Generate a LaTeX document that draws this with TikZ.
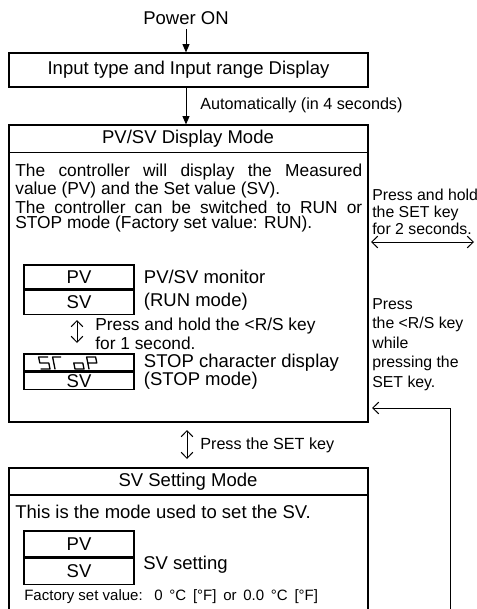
\documentclass[tikz,border=0pt]{standalone}
\usepackage{fontspec}
\setmainfont{Liberation Sans}
\usetikzlibrary{arrows.meta,calc,positioning}

\begin{document}
\begin{tikzpicture}[
  x=0.6pt,y=-0.6pt,
  every node/.style={font=\fontsize{11.1}{11.1}\selectfont,inner sep=0pt},
  frame/.style={draw,line width=0.7pt},
  cell/.style={draw,line width=0.7pt,minimum width=66pt},
  lbl/.style={anchor=west,align=left},
  para/.style={lbl,font=\fontsize{10.4}{10.4}\selectfont},
  note/.style={lbl,font=\fontsize{9.7}{9.7}\selectfont},
  side/.style={lbl,font=\fontsize{9.5}{#1}\selectfont},
  small/.style={anchor=west,font=\fontsize{9}{9}\selectfont},
  flow/.style={draw,line width=0.6pt,-{Triangle[length=5pt,width=4.2pt]}},
  swap/.style={draw,line width=0.6pt,
    {Straight Barb[length=3.6pt,width=7pt]}-{Straight Barb[length=3.6pt,width=7pt]}},
  back/.style={draw,line width=0.6pt,-{Straight Barb[length=3.6pt,width=7pt]}},
  seg/.style={line width=0.8pt,line cap=round,line join=round}
]
  \useasboundingbox (0,0) rectangle (476,609);

  \node (pwr) at (186,18) {Power ON};
  \node[frame,minimum width=215.4pt,minimum height=20.4pt] (inp) at (188.5,70)
    {Input type and Input range Display};
  \draw[flow] ($(pwr.south)+(0,4)$) -- (pwr.south |- inp.north);

  \node[frame,minimum width=215.4pt,minimum height=178.2pt] (disp) at (188.5,273.5) {};
  \node (dtitle) at (188,139) {PV/SV Display Mode};
  \draw[frame] ($(disp.north west)+(0,28)$) -- ($(disp.north east)+(0,28)$);
  \draw[flow] (pwr.south |- inp.south) -- (pwr.south |- disp.north);
  \node[note] (auto) at (200,105) {Automatically (in 4 seconds)};

  \node[para] (p1) at (15,172) {\makebox[208.2pt][s]{The controller will display the Measured}};
  \node[para] (p2) at (15,190) {value (PV) and the Set value (SV).};
  \node[para] (p3) at (15,207) {\makebox[208.2pt][s]{The controller can be switched to RUN or}};
  \node[para] (p4) at (15,224) {STOP mode (Factory set value: RUN).};

  \node[cell,minimum height=14.4pt] (pvA) at (79,277) {PV};
  \node[cell,minimum height=14.4pt,below=0pt of pvA] (svA) {SV};
  \node[lbl,right=5.4pt of pvA.east] (runA) {PV/SV monitor};
  \node[lbl,right=5.4pt of svA.east] (runB) {(RUN mode)};

  \coordinate (upA) at (77,320);
  \coordinate (dnA) at (77,343);
  \draw[swap] (upA) -- (dnA);
  \node[para] (rsA) at (95,326) {Press and hold the <R/S key};
  \node[para] (rsB) at (95,343) {for 1 second.};

  \node[cell,minimum height=10.2pt] (stopA) at (79,362.5) {};
  \node[cell,minimum height=10.2pt,below=0pt of stopA] (svB) {SV};
  \node[lbl,right=5.4pt of stopA.east] (stA) {STOP character display};
  \node[lbl,right=5.4pt of svB.east] (stB) {(STOP mode)};
  \begin{scope}[shift={(41,369)},yscale=-1,xslant=0.2,seg]
    \draw (9,12) -- (0,12) -- (0,6) -- (9,6) -- (9,0) -- (0,0);
    \draw (22,12) -- (14,12) -- (14,0);
    \draw (34,6) -- (43,6) -- (43,0) -- (34,0) -- cycle;
    \draw (48,0) -- (48,12) -- (57,12) -- (57,6) -- (48,6);
  \end{scope}

  \coordinate (upB) at (187,430);
  \coordinate (dnB) at (187,459);
  \draw[swap] (upB) -- (dnB);
  \node[note] (setA) at (200,445) {Press the SET key};

  \draw[frame] (9,609) -- (9,468) -- (368,468) -- (368,609);
  \draw[frame] (9,495) -- (368,495);
  \node (stitle) at (188,482) {SV Setting Mode};
  \node[lbl] (sdesc) at (15,512) {This is the mode used to set the SV.};
  \node[cell,minimum height=15.6pt] (pvC) at (79,544) {PV};
  \node[cell,minimum height=15.6pt,below=0pt of pvC] (svC) {SV};
  \node[lbl] (svset) at (143,565) {SV setting};
  \node[small] (fac) at (24,597)
    {Factory set value:\hspace{7pt}{\spaceskip=0.45em 0 °C [°F] or 0.0 °C [°F]}};

  \coordinate (lhold) at (371,242);
  \coordinate (rhold) at (474,242);
  \draw[swap] (lhold) -- (rhold);
  \node[side=10.2] (hold) at (372,211.5)
    {Press and hold\\the SET key\\for 2 seconds.};
  \node[side=11.7] (press) at (372,344.5)
    {Press\\the <R/S key\\while\\pressing the\\SET key.};

  \coordinate (rbot) at (450,609);
  \coordinate (rcor) at (450,408);
  \coordinate (rtip) at (372,408);
  \draw[back] (rbot) -- (rcor) -- (rtip);
\end{tikzpicture}
\end{document}
